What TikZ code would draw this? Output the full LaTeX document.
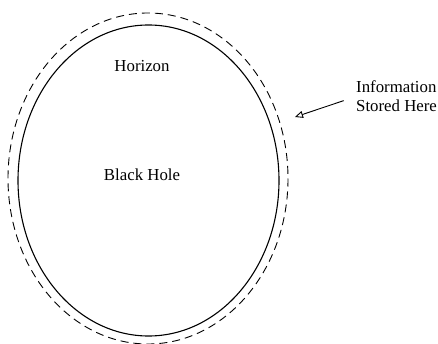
\documentclass[tikz,border=0pt]{standalone}
\usepackage{fontspec}
\setmainfont{Liberation Serif}
\usepackage{tikz}
\usetikzlibrary{arrows.meta, positioning}

\begin{document}
\begin{tikzpicture}[x=1pt, y=-1pt]

  \useasboundingbox (0,0) rectangle (438,344);

  \tikzset{lbl/.style={font=\fontsize{16.8}{18}\selectfont, inner sep=0pt}}

  %% Horizon and the stretched layer just outside it
  \coordinate (bh) at (148.5,180.5);
  \draw[line width=1.1pt] (bh) ellipse [x radius=130.5, y radius=155.5];
  \draw[line width=0.9pt, dash pattern=on 8pt off 5pt]
    (148,178.5) ellipse [x radius=140, y radius=165.5];

  %% Labels inside
  \node[lbl] (horizon) at (142,66) {Horizon};
  \node[lbl] (hole) at (142,175) {Black Hole};

  %% Pointer to the outer layer
  \node[lbl, anchor=west, align=left] (info) at (356,96.5)
    {Information\\[1pt]Stored Here};
  \coordinate (tip) at (295,117);
  \draw[-{Triangle[open, length=8pt, width=7pt]}, line width=0.9pt,
    shorten <=13pt] (info.west) -- (tip);

\end{tikzpicture}
\end{document}
